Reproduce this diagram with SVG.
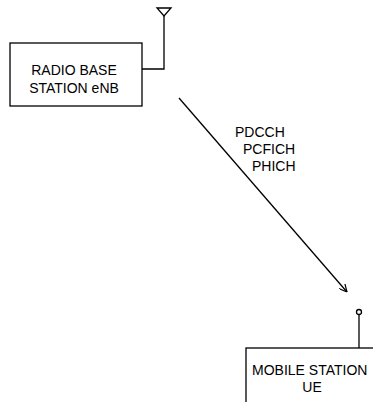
<svg xmlns="http://www.w3.org/2000/svg" width="373" height="402" viewBox="0 0 373 402">
<style>
.box{fill:#fff;stroke:#000;stroke-width:1.3}
.ln{fill:none;stroke:#000;stroke-width:1.3}
text{font-family:"Liberation Sans",Arial,sans-serif;font-size:14px;fill:#000}
</style>
<defs>
<marker id="ah" viewBox="0 0 10 10" refX="10" refY="5" markerWidth="8" markerHeight="8" markerUnits="userSpaceOnUse" orient="auto">
<path d="M0,0 L10,5 L0,10" fill="none" stroke="#000" stroke-width="1.5"/>
</marker>
</defs>
<g id="enb">
<rect class="box" x="10" y="43" width="132" height="63"/>
<polyline class="ln" points="142,69 164,69 164,16"/>
<polygon class="ln" points="157,8 171,8 164,16"/>
<text x="74" y="75" text-anchor="middle">RADIO BASE</text>
<text x="74" y="93" text-anchor="middle">STATION eNB</text>
</g>
<g id="ue">
<rect class="box" x="246" y="348" width="140" height="60"/>
<line class="ln" x1="359" y1="315" x2="359" y2="348"/>
<circle class="ln" cx="359" cy="312" r="2.5"/>
<text x="252" y="375">MOBILE STATION</text>
<text x="312" y="392" text-anchor="middle">UE</text>
</g>
<g id="connectors">
<line class="ln" x1="179" y1="98" x2="347" y2="292" marker-end="url(#ah)"/>
<text x="235" y="137">PDCCH</text>
<text x="243" y="154">PCFICH</text>
<text x="252" y="171">PHICH</text>
</g>
</svg>
